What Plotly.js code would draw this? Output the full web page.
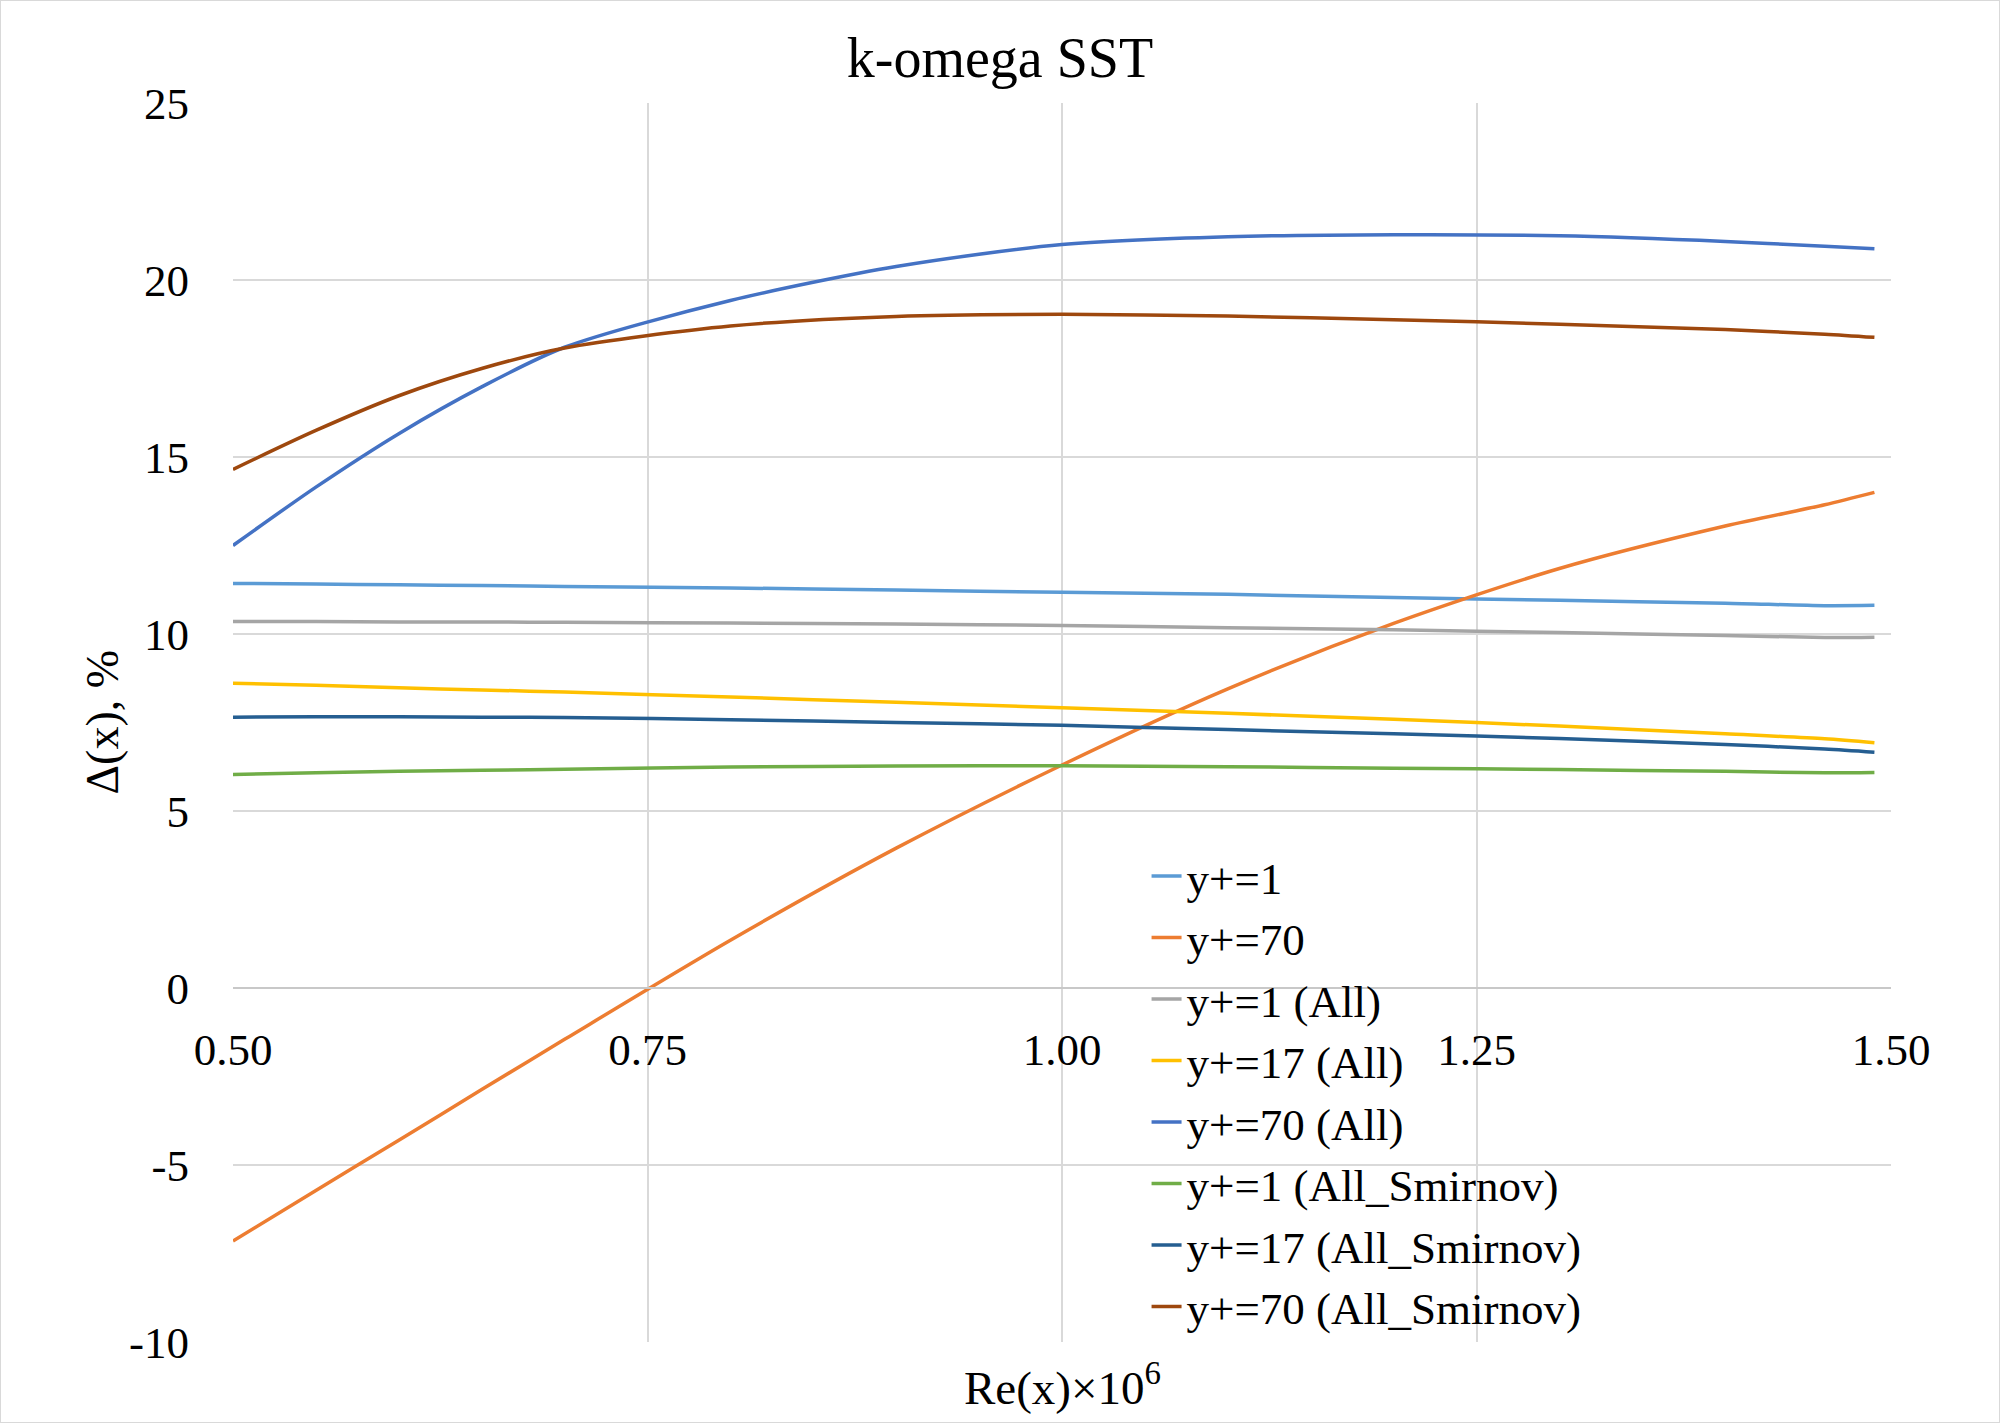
<!DOCTYPE html>
<html>
<head>
<meta charset="utf-8">
<script src="https://cdn.plot.ly/plotly-3.0.1.min.js"></script>
<style>
  html, body { margin: 0; padding: 0; background: #fff; }
  #chart { width: 1998px; height: 1421px; border: 1px solid #D9D9D9; }
</style>
</head>
<body>
<div id="chart"></div>
<script>
// Re(x) x 10^6 sample positions
var re = [0.5, 0.55, 0.6, 0.65, 0.7, 0.8, 0.9, 1.0, 1.1, 1.2, 1.3, 1.4, 1.46, 1.49];

// Delta(x), % for each case
var yp1 = [11.43, 11.41, 11.39, 11.37, 11.34, 11.30, 11.24, 11.18, 11.12, 11.03, 10.95, 10.87, 10.80, 10.81];
var yp70 = [-7.15, -5.72, -4.30, -2.87, -1.45, 1.35, 3.95, 6.30, 8.45, 10.30, 11.85, 13.05, 13.65, 14.00];
var yp1All = [10.35, 10.35, 10.34, 10.34, 10.33, 10.31, 10.28, 10.24, 10.18, 10.12, 10.04, 9.96, 9.90, 9.91];
var yp17All = [8.61, 8.55, 8.48, 8.42, 8.36, 8.22, 8.07, 7.92, 7.76, 7.59, 7.40, 7.18, 7.04, 6.93];
var yp70All = [12.50, 14.15, 15.66, 16.98, 18.10, 19.42, 20.38, 21.00, 21.22, 21.28, 21.25, 21.09, 20.95, 20.88];
var yp1Smir = [6.03, 6.08, 6.12, 6.15, 6.18, 6.24, 6.27, 6.28, 6.25, 6.21, 6.17, 6.12, 6.08, 6.09];
var yp17Smir = [7.65, 7.66, 7.66, 7.65, 7.64, 7.58, 7.50, 7.42, 7.30, 7.18, 7.05, 6.88, 6.75, 6.66];
var yp70Smir = [14.65, 15.75, 16.73, 17.50, 18.08, 18.70, 18.97, 19.03, 18.98, 18.88, 18.75, 18.60, 18.47, 18.38];

var names = ["y+=1", "y+=70", "y+=1 (All)", "y+=17 (All)", "y+=70 (All)",
	"y+=1 (All_Smirnov)", "y+=17 (All_Smirnov)", "y+=70 (All_Smirnov)"];
var series = [yp1, yp70, yp1All, yp17All, yp70All, yp1Smir, yp17Smir, yp70Smir];
var colors = ["#5B9BD5", "#ED7D31", "#A5A5A5", "#FFC000", "#4472C4",
	"#70AD47", "#255E91", "#9E480E"];

var xTicks = [0.5, 0.75, 1.0, 1.25, 1.5];
var xTickText = ["0.50", "0.75", "1.00", "1.25", "1.50"];
var yTicks = [-10, -5, 0, 5, 10, 15, 20, 25];
var yTickText = ["-10", "-5", "0", "5", "10", "15", "20", "25"];

var font = "Liberation Serif, Times New Roman, serif";

var data = [];
for (var i = 0; i < series.length; i++) {
	data.push({
		x: re,
		y: series[i],
		name: names[i],
		type: 'scatter',
		mode: 'lines',
		line: {color: colors[i], width: 3.5, shape: 'spline', smoothing: 0.8}
	});
}

var yMin = -10, yMax = 25;

var layout = {
	width: 1998,
	height: 1421,
	paper_bgcolor: '#ffffff',
	plot_bgcolor: '#ffffff',
	margin: {l: 232, r: 108, t: 102, b: 80, autoexpand: false},
	font: {family: font, size: 44, color: '#000'},
	title: {
		text: 'k-omega SST',
		font: {family: font, size: 56, color: '#000'},
		x: 0.5, xref: 'container', xanchor: 'center',
		y: 1 - 56 / 1421, yref: 'container', yanchor: 'middle'
	},
	xaxis: {
		range: [0.5, 1.5],
		tickvals: xTicks,
		ticktext: xTickText,
		showgrid: true,
		gridcolor: '#D9D9D9',
		gridwidth: 2,
		zeroline: false,
		showline: true,
		linecolor: '#C8C8C8',
		linewidth: 2,
		anchor: 'free',
		position: (0 - yMin) / (yMax - yMin),
		ticks: 'outside',
		ticklen: 22,
		tickcolor: 'rgba(0,0,0,0)',
		tickfont: {family: font, size: 45, color: '#000'},
		fixedrange: true
	},
	yaxis: {
		range: [yMin, yMax],
		tickvals: yTicks,
		ticktext: yTickText,
		showgrid: true,
		gridcolor: '#D9D9D9',
		gridwidth: 2,
		zeroline: false,
		showline: false,
		ticks: 'outside',
		ticklen: 34,
		tickcolor: 'rgba(0,0,0,0)',
		tickfont: {family: font, size: 45, color: '#000'},
		fixedrange: true
	},
	legend: {
		x: 0.551, y: 0.405,
		xanchor: 'left', yanchor: 'top',
		bgcolor: 'rgba(0,0,0,0)',
		font: {family: font, size: 45, color: '#000'},
		tracegroupgap: 0
	},
	annotations: [{
		text: 'Re(x)×10<sup>6</sup>',
		xref: 'paper', yref: 'paper',
		x: 0.5, y: -(1385 - 1342) / 1240,
		xanchor: 'center', yanchor: 'middle',
		showarrow: false,
		font: {family: font, size: 47, color: '#000'}
	}, {
		text: 'Δ(x), %',
		xref: 'paper', yref: 'paper',
		x: -(233 - 102) / 1658, y: 0.5,
		xanchor: 'center', yanchor: 'middle',
		textangle: -90,
		showarrow: false,
		font: {family: font, size: 46, color: '#000'}
	}],
	showlegend: true
};

var config = {displayModeBar: false, staticPlot: true};
Plotly.newPlot('chart', data, layout, config);
</script>
</body>
</html>
